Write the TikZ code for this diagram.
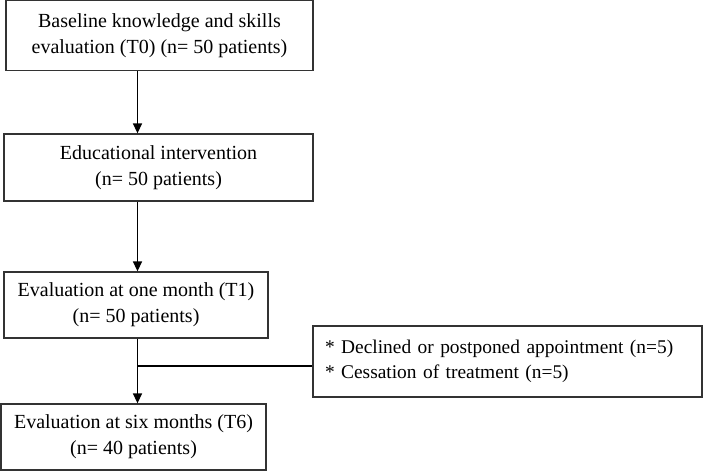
\documentclass[tikz,border=0pt]{standalone}
\usepackage{fontspec}
\setmainfont{Liberation Serif}
\usetikzlibrary{arrows.meta}
\begin{document}
\begin{tikzpicture}[x=1pt,y=-1pt,
  box/.style={draw=black!80,line width=1.3pt,inner sep=0pt,align=center,font=\fontsize{20}{26}\selectfont},
  arr/.style={line width=1.5pt,-{Triangle[length=10pt,width=9pt]}},
  conn/.style={line width=1.5pt}]
\useasboundingbox (0,0) rectangle (703,471);
\node[box,minimum width=307pt,minimum height=70pt] (b1) at (159.5,35.5) {Baseline knowledge and skills\\evaluation (T0) (n= 50 patients)};
\node[box,minimum width=309pt,minimum height=67pt] (b2) at (158.5,167.5) {Educational intervention\\(n= 50 patients)};
\node[box,minimum width=264pt,minimum height=66pt] (b3) at (136,305) {Evaluation at one month (T1)\\(n= 50 patients)};
\node[box,minimum width=265pt,minimum height=66pt] (b4) at (133.5,437) {Evaluation at six months (T6)\\(n= 40 patients)};
\node[box,minimum width=389pt,minimum height=71pt,align=left,text width=365pt,font=\fontsize{19.4}{25}\selectfont] (side) at (507.5,361.5) {* Declined or postponed appointment (n=5)\\\relax * Cessation of treatment (n=5)};
\coordinate (ax) at (137.5,0);
\coordinate (j) at (137.5,366);
\draw[arr] (b1.south -| ax) -- (b2.north -| ax);
\draw[arr] (b2.south -| ax) -- (b3.north -| ax);
\draw[arr] (b3.south -| ax) -- (b4.north -| ax);
\draw[conn] (j) -- (side.west |- j);
\end{tikzpicture}
\end{document}
